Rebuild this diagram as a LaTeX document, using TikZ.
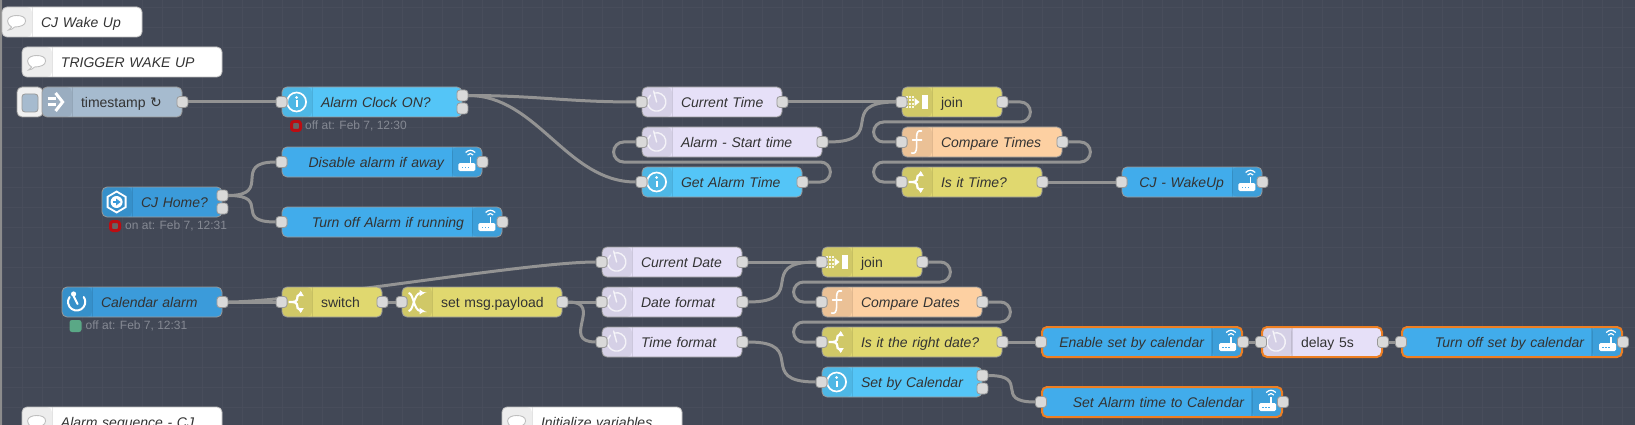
\documentclass[tikz,border=0pt]{standalone}
\usepackage{fontspec}
\setmainfont{Liberation Sans}
\newfontfamily\symfont{DejaVu Sans}
\usetikzlibrary{arrows.meta,positioning,calc}
\definecolor{canvas}{HTML}{424856}
\definecolor{gridl}{HTML}{484D5B}
\definecolor{inj}{HTML}{A6BBCF}
\definecolor{rbe}{HTML}{54C5F7}
\definecolor{call}{HTML}{41ACEB}
\definecolor{evt}{HTML}{3B9BDA}
\definecolor{dly}{HTML}{E6E0F8}
\definecolor{fnc}{HTML}{FDD0A2}
\definecolor{swt}{HTML}{E0D86F}
\definecolor{cmt}{HTML}{FFFFFF}
\definecolor{txt}{HTML}{333333}
\definecolor{wirec}{HTML}{939393}
\definecolor{selc}{HTML}{EE7F22}
\definecolor{stat}{HTML}{858993}
\definecolor{okgr}{HTML}{5AA886}
\definecolor{errd}{HTML}{BB0D12}
\pgfdeclarelayer{gridlayer}
\pgfdeclarelayer{wirelayer}
\pgfsetlayers{gridlayer,wirelayer,main}
\tikzset{
fnode/.style={draw=black!40,line width=.8,rounded corners=5,minimum height=30,inner xsep=0,inner ysep=0,text height=13,text depth=2,text=txt,font=\fontsize{14}{16}\selectfont},
lft/.style={text width=#1,align=left,execute at begin node={\hspace*{39pt}},path picture={\fill[black,opacity=.07] (path picture bounding box.north west) rectangle ++(30,30);\draw[black,opacity=.1] ([xshift=30]path picture bounding box.north west) -- ++(0,30);}},
rgt/.style={text width=#1,align=right,execute at end node={\hspace*{38pt}},path picture={\fill[black,opacity=.07] (path picture bounding box.north east) rectangle ++(-30,30);\draw[black,opacity=.1] ([xshift=-30]path picture bounding box.north east) -- ++(0,30);}},
ital/.style={font=\fontsize{14}{16}\selectfont\itshape},
sel/.style={draw=selc,line width=2},
port/.style={draw=black!40,fill=black!15,line width=.8,rounded corners=3,minimum size=11,inner sep=0},
wire/.style={draw=wirec,line width=3},
statn/.style={text=stat,font=\fontsize{12}{14}\selectfont,anchor=west,inner sep=0},
ring/.style={draw=errd,fill=black!60,line width=3,rounded corners=2.5,minimum size=9,inner sep=0},
dotn/.style={fill=okgr,rounded corners=2.5,minimum size=12,inner sep=0},
ic/.style={draw=white,line width=1.7,line cap=round},
pics/infoic/.style={code={\draw[ic] (0,0) circle[radius=9.5];\fill[white] (0,-4.5) circle[radius=1.5];\draw[ic,line cap=butt,line width=2] (0,-1.5) -- (0,5);}},
pics/clockic/.style={code={\draw[ic,opacity=.75,line width=1.4] (-2,-9) arc[start angle=103,end angle=-227,radius=9.2pt];\draw[ic,opacity=.75,line width=1.4] (0,0) -- (-3,-11);}},
pics/funcic/.style={code={\draw[ic,line width=1.6] (5,-11) .. controls (1,-12) and (0,-9) .. (0,-5) -- (0,5) .. controls (0,10) and (-2,12) .. (-5,11);\draw[ic,line width=1.6] (-4,-2) -- (5,-2);}},
pics/swic/.style={code={\draw[ic,line width=2.2,line cap=butt,-{Triangle[length=5pt,width=6pt]}] (-8,0) -- (-4,0) .. controls (1,0) and (1,-4) .. (1,-6) -- (4,-8) -- (4,-11);\draw[ic,line width=2.2,line cap=butt,-{Triangle[length=5pt,width=6pt]}] (-4,0) .. controls (1,0) and (1,4) .. (1,6) -- (4,8) -- (4,11);}},
pics/joinic/.style={code={\foreach \xx in {-10,-7,-4}{\foreach \yy in {-5,-1.7,1.7,5}{\fill[white,opacity=.85] (\xx-1,\yy-1) rectangle (\xx+1,\yy+1);}}\fill[white] (-2,-4) -- (3,0) -- (-2,4) -- cycle;\fill[white] (5,-7) rectangle (11,7);}},
pics/injic/.style={code={\draw[ic,line width=3,line cap=butt] (-9,-3) -- (-1,-3);\draw[ic,line width=3,line cap=butt] (-9,3) -- (-1,3);\draw[ic,line width=3,line cap=butt] (-1,-9) -- (6,0) -- (-1,9);}},
pics/hexic/.style={code={\draw[ic,line width=1.8] (0,-10.5) -- (9,-5.2) -- (9,5.2) -- (0,10.5) -- (-9,5.2) -- (-9,-5.2) -- cycle;\fill[white] (0,0) circle[radius=6];\fill[evt] (-3.5,-1.2) rectangle (0,1.2);\fill[evt] (-.5,-3.5) -- (4,0) -- (-.5,3.5) -- cycle;}},
pics/timeric/.style={code={\draw[ic,line width=2] (-7,-5) arc[start angle=145,end angle=395,radius=8.6pt];\draw[ic,line width=2] (-3,-6) -- (1,2);\fill[white] (-3,-8) circle[radius=2.6];}},
pics/routeric/.style={code={\fill[white,rounded corners=1.5] (-9,1) rectangle (8,9);\foreach \xx in {-5,-2,1}{\fill[call] (\xx-.9,4.5) rectangle (\xx+.9,6.3);}\draw[white,line width=1.4] (3,1) -- (3,-5);\draw[white,line width=1.2] (.2,-7) .. controls (2,-9) and (4,-9) .. (5.8,-7);\draw[white,line width=1.2] (-1.8,-9.5) .. controls (1.5,-12.5) and (4.5,-12.5) .. (7.8,-9.5);}},
pics/bubic/.style={code={\draw[fill=white,draw=black!25,line width=.9] (-5,5) .. controls (-8,3) and (-9,1) .. (-9,-1) .. controls (-9,-5) and (-4,-6.5) .. (0,-6.5) .. controls (5,-6.5) and (9,-5) .. (9,-1) .. controls (9,3) and (4,5) .. (-2,5) .. controls (-4,7) and (-6,8) .. (-8,8) .. controls (-7,7) and (-5.5,6) .. (-5,5) -- cycle;}},
pics/mixic/.style={code={\draw[ic,line width=2,line cap=butt,-{Triangle[length=5pt,width=6pt]}] (-8,-9) .. controls (-3,-9) and (-3,9) .. (4,9) -- (8,9);\draw[ic,line width=2,line cap=butt,-{Triangle[length=5pt,width=6pt]}] (-8,9) .. controls (-3,9) and (-3,-9) .. (4,-9) -- (8,-9);}}
}
\begin{document}
\begin{tikzpicture}[x=1pt,y=-1pt]
\useasboundingbox (0,0) rectangle (1635,425);
\clip (0,0) rectangle (1635,425);
\begin{pgfonlayer}{gridlayer}
\fill[canvas] (0,0) rectangle (1635,425);
\foreach \gx in {2,22,...,1622} {\draw[gridl,line width=.8] (\gx,0) -- (\gx,425);}
\foreach \gy in {7,27,...,407} {\draw[gridl,line width=.8] (0,\gy) -- (1635,\gy);}
\draw[black!45,line width=1.2] (1,0) -- (1,425);
\end{pgfonlayer}
% comments
\node[fnode,lft=140,fill=cmt,ital,draw=black!25] (wake) at (72,22) {CJ Wake Up};
\node[fnode,lft=200,fill=cmt,ital,draw=black!25] (trig) at (122,62) {TRIGGER WAKE UP};
\node[fnode,lft=200,fill=cmt,ital,draw=black!25] (seq) at (122,422) {Alarm sequence - CJ};
\node[fnode,lft=180,fill=cmt,ital,draw=black!25] (init) at (592,422) {Initialize variables};
\pic at ([xshift=15]wake.west) {bubic};
\pic at ([xshift=15]trig.west) {bubic};
\pic at ([xshift=15]seq.west) {bubic};
\pic at ([xshift=15]init.west) {bubic};
% first row
\node[fnode,fill=black!6,minimum width=26] (btn) at (30,102) {};
\node[fnode,fill=inj,minimum width=16,minimum height=18,rounded corners=3,text height=0,text depth=0] (btnb) at (30,103) {};
\node[fnode,lft=140,fill=inj] (ts) at (112,102) {timestamp {\symfont\fontsize{14}{14}\selectfont ↻}};
\node[fnode,lft=180,fill=rbe,ital] (aco) at (372,102) {Alarm Clock ON?};
\node[fnode,lft=140,fill=dly,ital] (cur) at (712,102) {Current Time};
\node[fnode,lft=180,fill=dly,ital] (alm) at (732,142) {Alarm - Start time};
\node[fnode,lft=160,fill=rbe,ital] (get) at (722,182) {Get Alarm Time};
\node[fnode,lft=100,fill=swt] (jna) at (952,102) {join};
\node[fnode,lft=160,fill=fnc,ital] (cmpa) at (982,142) {Compare Times};
\node[fnode,lft=140,fill=swt,ital] (isa) at (972,182) {Is it Time?};
\node[fnode,rgt=140,fill=call,ital] (wup) at (1192,182) {CJ - WakeUp};
% home
\node[fnode,lft=120,fill=evt,ital] (home) at (162,202) {CJ Home?};
\node[fnode,rgt=200,fill=call,ital] (dis) at (382,162) {Disable alarm if away};
\node[fnode,rgt=220,fill=call,ital] (off) at (392,222) {Turn off Alarm if running};
% calendar row
\node[fnode,lft=160,fill=evt,ital] (cal) at (142,302) {Calendar alarm};
\node[fnode,lft=100,fill=swt] (swi) at (332,302) {switch};
\node[fnode,lft=160,fill=swt] (pay) at (482,302) {set msg.payload};
\node[fnode,lft=140,fill=dly,ital] (cdt) at (672,262) {Current Date};
\node[fnode,lft=140,fill=dly,ital] (dfm) at (672,302) {Date format};
\node[fnode,lft=140,fill=dly,ital] (tfm) at (672,342) {Time format};
\node[fnode,lft=100,fill=swt] (jnb) at (872,262) {join};
\node[fnode,lft=160,fill=fnc,ital] (cmpb) at (902,302) {Compare Dates};
\node[fnode,lft=180,fill=swt,ital] (isb) at (912,342) {Is it the right date?};
\node[fnode,lft=160,fill=rbe,ital] (sbc) at (902,382) {Set by Calendar};
\node[fnode,rgt=200,fill=call,ital,sel] (ena) at (1142,342) {Enable set by calendar};
\node[fnode,lft=120,fill=dly,sel] (dls) at (1322,342) {delay 5s};
\node[fnode,rgt=220,fill=call,ital,sel] (tof) at (1512,342) {Turn off set by calendar};
\node[fnode,rgt=240,fill=call,ital,sel] (sat) at (1162,402) {Set Alarm time to Calendar};
% icons
\pic at ([xshift=15]ts.west) {injic};
\pic at ([xshift=15]aco.west) {infoic};
\pic at ([xshift=15]cur.west) {clockic};
\pic at ([xshift=15]alm.west) {clockic};
\pic at ([xshift=15]get.west) {infoic};
\pic at ([xshift=15]jna.west) {joinic};
\pic at ([xshift=15]cmpa.west) {funcic};
\pic at ([xshift=15]isa.west) {swic};
\pic at ([xshift=-15]wup.east) {routeric};
\pic at ([xshift=15]home.west) {hexic};
\pic at ([xshift=-15]dis.east) {routeric};
\pic at ([xshift=-15]off.east) {routeric};
\pic at ([xshift=15]cal.west) {timeric};
\pic at ([xshift=15]swi.west) {swic};
\pic at ([xshift=15]pay.west) {mixic};
\pic at ([xshift=15]cdt.west) {clockic};
\pic at ([xshift=15]dfm.west) {clockic};
\pic at ([xshift=15]tfm.west) {clockic};
\pic at ([xshift=15]jnb.west) {joinic};
\pic at ([xshift=15]cmpb.west) {funcic};
\pic at ([xshift=15]isb.west) {swic};
\pic at ([xshift=15]sbc.west) {infoic};
\pic at ([xshift=-15]ena.east) {routeric};
\pic at ([xshift=15]dls.west) {clockic};
\pic at ([xshift=-15]tof.east) {routeric};
\pic at ([xshift=-15]sat.east) {routeric};
% status
\node[ring] (acod) at (296,126) {};
\node[statn] (acos) at (305,126) {off at: Feb 7, 12:30};
\node[ring] (homed) at (115,226) {};
\node[statn] (homes) at (125,226) {on at: Feb 7, 12:31};
\node[dotn] (cald) at (75.5,326) {};
\node[statn] (cals) at (85.5,326) {off at: Feb 7, 12:31};
% ports
\node[port] (ts-o) at (ts.east) {};
\node[port] (aco-i) at (aco.west) {};
\node[port,yshift=6.5] (aco-o) at (aco.east) {};
\node[port,yshift=-6.5] (aco-p) at (aco.east) {};
\node[port] (cur-i) at (cur.west) {};
\node[port] (cur-o) at (cur.east) {};
\node[port] (alm-i) at (alm.west) {};
\node[port] (alm-o) at (alm.east) {};
\node[port] (get-i) at (get.west) {};
\node[port] (get-o) at (get.east) {};
\node[port] (jna-i) at (jna.west) {};
\node[port] (jna-o) at (jna.east) {};
\node[port] (cmpa-i) at (cmpa.west) {};
\node[port] (cmpa-o) at (cmpa.east) {};
\node[port] (isa-i) at (isa.west) {};
\node[port] (isa-o) at (isa.east) {};
\node[port] (wup-i) at (wup.west) {};
\node[port] (wup-o) at (wup.east) {};
\node[port,yshift=6.5] (home-o) at (home.east) {};
\node[port,yshift=-6.5] (home-p) at (home.east) {};
\node[port] (dis-i) at (dis.west) {};
\node[port] (dis-o) at (dis.east) {};
\node[port] (off-i) at (off.west) {};
\node[port] (off-o) at (off.east) {};
\node[port] (cal-o) at (cal.east) {};
\node[port] (swi-i) at (swi.west) {};
\node[port] (swi-o) at (swi.east) {};
\node[port] (pay-i) at (pay.west) {};
\node[port] (pay-o) at (pay.east) {};
\node[port] (cdt-i) at (cdt.west) {};
\node[port] (cdt-o) at (cdt.east) {};
\node[port] (dfm-i) at (dfm.west) {};
\node[port] (dfm-o) at (dfm.east) {};
\node[port] (tfm-i) at (tfm.west) {};
\node[port] (tfm-o) at (tfm.east) {};
\node[port] (jnb-i) at (jnb.west) {};
\node[port] (jnb-o) at (jnb.east) {};
\node[port] (cmpb-i) at (cmpb.west) {};
\node[port] (cmpb-o) at (cmpb.east) {};
\node[port] (isb-i) at (isb.west) {};
\node[port] (isb-o) at (isb.east) {};
\node[port] (sbc-i) at (sbc.west) {};
\node[port,yshift=6.5] (sbc-o) at (sbc.east) {};
\node[port,yshift=-6.5] (sbc-p) at (sbc.east) {};
\node[port] (ena-i) at (ena.west) {};
\node[port] (ena-o) at (ena.east) {};
\node[port] (dls-i) at (dls.west) {};
\node[port] (dls-o) at (dls.east) {};
\node[port] (tof-i) at (tof.west) {};
\node[port] (tof-o) at (tof.east) {};
\node[port] (sat-i) at (sat.west) {};
\node[port] (sat-o) at (sat.east) {};
% wires
\begin{pgfonlayer}{wirelayer}
\draw[wire] (ts-o) -- (aco-i);
\draw[wire] (aco-o) .. controls +(75,0) and +(-75,0) .. (cur-i);
\draw[wire] (aco-o) .. controls +(75,0) and +(-75,0) .. (get-i);
\draw[wire] (cur-o) -- (jna-i);
\draw[wire] (alm-o) .. controls +(67,0) and +(-67,0) .. (jna-i);
\draw[wire,rounded corners=10] (get-o) -- ++(28,0) -- ++(0,-20) -| ($(alm-i)+(-28,0)$) -- (alm-i);
\draw[wire,rounded corners=10] (jna-o) -- ++(28,0) -- ++(0,20) -| ($(cmpa-i)+(-28,0)$) -- (cmpa-i);
\draw[wire,rounded corners=10] (cmpa-o) -- ++(28,0) -- ++(0,20) -| ($(isa-i)+(-28,0)$) -- (isa-i);
\draw[wire] (isa-o) -- (wup-i);
\draw[wire] (home-o) .. controls +(51,0) and +(-51,0) .. (dis-i);
\draw[wire] (home-o) .. controls +(50,0) and +(-50,0) .. (off-i);
\draw[wire] (cal-o) -- (swi-i);
\draw[wire] (cal-o) .. controls +(75,0) and +(-75,0) .. (cdt-i);
\draw[wire] (swi-o) -- (pay-i);
\draw[wire] (pay-o) -- (dfm-i);
\draw[wire] (pay-o) .. controls +(42,0) and +(-42,0) .. (tfm-i);
\draw[wire] (cdt-o) -- (jnb-i);
\draw[wire] (dfm-o) .. controls +(67,0) and +(-67,0) .. (jnb-i);
\draw[wire] (tfm-o) .. controls +(67,0) and +(-67,0) .. (sbc-i);
\draw[wire,rounded corners=10] (jnb-o) -- ++(28,0) -- ++(0,20) -| ($(cmpb-i)+(-28,0)$) -- (cmpb-i);
\draw[wire,rounded corners=10] (cmpb-o) -- ++(28,0) -- ++(0,20) -| ($(isb-i)+(-28,0)$) -- (isb-i);
\draw[wire] (isb-o) -- (ena-i);
\draw[wire] (ena-o) -- (dls-i);
\draw[wire] (dls-o) -- (tof-i);
\draw[wire] (sbc-o) .. controls +(49,0) and +(-49,0) .. (sat-i);
\end{pgfonlayer}
\end{tikzpicture}
\end{document}
